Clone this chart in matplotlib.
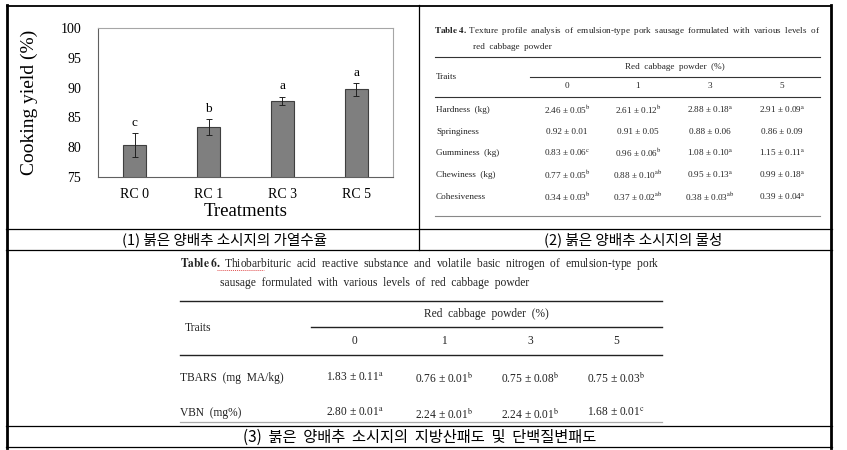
import matplotlib
matplotlib.use("Agg")
import matplotlib.pyplot as plt
import numpy as np

plt.rcParams['font.family'] = ['Liberation Serif', 'DejaVu Serif']
plt.rcParams['mathtext.fontset'] = 'stix'

# 1. Data
treatments = ['RC 0', 'RC 1', 'RC 3', 'RC 5']
cooking_yield = [80.4, 83.4, 87.8, 89.7]
yield_err = [2.0, 1.3, 0.7, 1.1]
yield_letters = ['c', 'b', 'a', 'a']

levels = ['0', '1', '3', '5']

t4_traits = ['Hardness  (kg)', 'Springiness', 'Gumminess  (kg)', 'Chewiness  (kg)', 'Cohesiveness']
t4_mean = [[2.46, 2.61, 2.88, 2.91],
           [0.92, 0.91, 0.88, 0.86],
           [0.83, 0.96, 1.08, 1.15],
           [0.77, 0.88, 0.95, 0.99],
           [0.34, 0.37, 0.38, 0.39]]
t4_sd = [[0.05, 0.12, 0.18, 0.09],
         [0.01, 0.05, 0.06, 0.09],
         [0.06, 0.06, 0.10, 0.11],
         [0.05, 0.10, 0.13, 0.18],
         [0.03, 0.02, 0.03, 0.04]]
t4_sup = [['b', 'b', 'a', 'a'],
          ['', '', '', ''],
          ['c', 'b', 'a', 'a'],
          ['b', 'ab', 'a', 'a'],
          ['b', 'ab', 'ab', 'a']]

t6_traits = ['TBARS  (mg  MA/kg)', 'VBN  (mg%)']
t6_mean = [[1.83, 0.76, 0.75, 0.75],
           [2.80, 2.24, 2.24, 1.68]]
t6_sd = [[0.11, 0.01, 0.08, 0.03],
         [0.01, 0.01, 0.01, 0.01]]
t6_sup = [['a', 'b', 'b', 'b'],
          ['a', 'b', 'b', 'c']]

caption1 = '(1) 붉은 양배추 소시지의 가열수율'
caption2 = '(2) 붉은 양배추 소시지의 물성'
caption3 = '(3)  붉은  양배추  소시지의  지방산패도  및  단백질변패도'
kfont = ['Noto Sans CJK KR', 'DejaVu Sans']


def cell(m, s, sup):
    txt = f'{m:.2f} ± {s:.2f}'
    if sup:
        txt += r'$^{\mathrm{' + sup + '}}$'
    return txt


# 2. Figure and pixel-space background
fig = plt.figure(figsize=(8.47, 4.5), dpi=100)
bg = fig.add_axes([0, 0, 1, 1])
bg.set_xlim(0, 847)
bg.set_ylim(450, 0)
bg.axis('off')

# frame lines
bg.plot([7, 831], [5.5, 5.5], color='black', lw=1.3)
bg.plot([7, 7], [5, 448], color='black', lw=2.0)
bg.plot([831, 831], [5, 448], color='black', lw=2.0)
bg.plot([419, 419], [5, 250], color='black', lw=0.9)
for yy in [229, 250, 426, 447]:
    bg.plot([6, 832], [yy, yy], color='black', lw=0.9)

# captions
bg.text(225, 240, caption1, family=kfont, fontsize=10.5, ha='center', va='center')
bg.text(633, 240, caption2, family=kfont, fontsize=10.5, ha='center', va='center')
bg.text(420, 437, caption3, family=kfont, fontsize=11, ha='center', va='center')

# 3. Table 4
fs4 = 6.6
bg.text(434, 31, r'$\mathbf{Table\ 4.}$ Texture  profile  analysis  of  emulsion-type  pork  sausage  formulated  with  various  levels  of',
        fontsize=fs4, ha='left', va='center', color='#222222')
bg.text(473, 47, 'red  cabbage  powder', fontsize=fs4, ha='left', va='center', color='#222222')
bg.plot([435, 820], [57, 57], color='#333333', lw=0.8)
bg.text(675, 67, 'Red  cabbage  powder  (%)', fontsize=fs4, ha='center', va='center', color='#222222')
bg.plot([530, 820], [77, 77], color='#333333', lw=0.8)
bg.text(436, 77, 'Traits', fontsize=fs4, ha='left', va='center', color='#222222')
t4_cols = [567, 638, 710, 782]
for xc, lv in zip(t4_cols, levels):
    bg.text(xc, 86, lv, fontsize=fs4, ha='center', va='center', color='#222222')
bg.plot([435, 820], [97, 97], color='#333333', lw=0.8)
t4_rows = [110, 132, 153, 175, 197]
for i, yy in enumerate(t4_rows):
    bg.text(436, yy, t4_traits[i], fontsize=fs4, ha='left', va='center', color='#222222')
    for j, xc in enumerate(t4_cols):
        bg.text(xc, yy, cell(t4_mean[i][j], t4_sd[i][j], t4_sup[i][j]),
                fontsize=fs4, ha='center', va='center', color='#222222')
bg.plot([435, 820], [216, 216], color='#888888', lw=0.8)

# 4. Table 6
fs6 = 8.3
bg.text(180, 263, r'$\mathbf{Table\ 6.}$ Thiobarbituric  acid  reactive  substance  and  volatile  basic  nitrogen  of  emulsion-type  pork',
        fontsize=fs6, ha='left', va='center', color='#222222')
bg.plot([217, 264], [270, 270], color='#e05050', lw=0.7, ls=(0, (1, 1)))
bg.text(220, 283, 'sausage  formulated  with  various  levels  of  red  cabbage  powder',
        fontsize=fs6, ha='left', va='center', color='#222222')
bg.plot([180, 662], [301, 301], color='#222222', lw=1.0)
bg.text(486, 314, 'Red  cabbage  powder  (%)', fontsize=fs6, ha='center', va='center', color='#222222')
bg.plot([311, 662], [327, 327], color='#222222', lw=1.0)
bg.text(185, 328, 'Traits', fontsize=fs6, ha='left', va='center', color='#222222')
t6_cols = [355, 444, 530, 616]
for xc, lv in zip(t6_cols, levels):
    bg.text(xc, 341, lv, fontsize=fs6, ha='center', va='center', color='#222222')
bg.plot([180, 662], [355, 355], color='#222222', lw=1.0)
t6_rows = [378, 413]
for i, yy in enumerate(t6_rows):
    bg.text(180, yy, t6_traits[i], fontsize=fs6, ha='left', va='center', color='#222222')
    for j, xc in enumerate(t6_cols):
        bg.text(xc, yy, cell(t6_mean[i][j], t6_sd[i][j], t6_sup[i][j]),
                fontsize=fs6, ha='center', va='center', color='#222222')
bg.plot([180, 662], [422, 422], color='#aaaaaa', lw=0.9)

# 5. Cooking yield bar chart
ax = fig.add_axes([98 / 847, 1 - 177 / 450, 295 / 847, 149 / 450])
x = np.arange(len(treatments))
ax.bar(x, cooking_yield, width=0.31, color='#7f7f7f', edgecolor='#3f3f3f', linewidth=0.8)
ax.errorbar(x, cooking_yield, yerr=yield_err, fmt='none', ecolor='#222222',
            elinewidth=0.7, capsize=2.5, capthick=0.7)
for xi, v, e, lt in zip(x, cooking_yield, yield_err, yield_letters):
    ax.annotate(lt, (xi, v + e), xytext=(0, 3), textcoords='offset points',
                ha='center', va='bottom', fontsize=9.5)
ax.set_xlim(-0.5, 3.5)
ax.set_ylim(75, 100)
ax.set_yticks([75, 80, 85, 90, 95, 100])
ax.set_xticks(x)
ax.set_xticklabels(treatments)
ax.tick_params(axis='both', length=0, labelsize=10)
ax.tick_params(axis='y', pad=12)
ax.tick_params(axis='x', pad=8)
for side in ['top', 'right']:
    ax.spines[side].set_color('#a6a6a6')
for side in ['left', 'bottom']:
    ax.spines[side].set_color('#606060')
ax.set_ylabel('Cooking yield (%)', fontsize=14)
ax.set_xlabel('Treatments', fontsize=13.5)
ax.yaxis.set_label_coords(-0.205, 0.5)
ax.xaxis.set_label_coords(0.5, -0.175)

fig.savefig('out.png', dpi=100)
